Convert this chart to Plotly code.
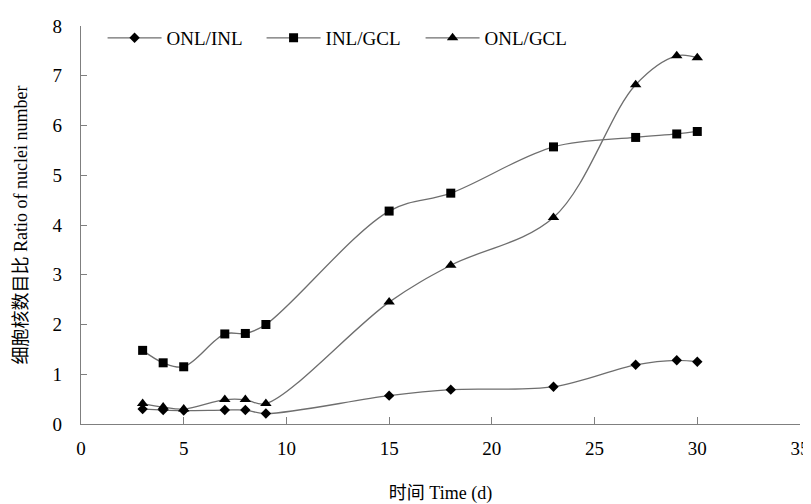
import plotly.graph_objects as go

days = [3, 4, 5, 7, 8, 9, 15, 18, 23, 27, 29, 30]
onl_inl = [0.30, 0.28, 0.27, 0.28, 0.28, 0.21, 0.57, 0.69, 0.75, 1.19, 1.28, 1.25]
inl_gcl = [1.48, 1.23, 1.15, 1.81, 1.82, 2.00, 4.28, 4.64, 5.57, 5.76, 5.83, 5.88]
onl_gcl = [0.41, 0.34, 0.30, 0.49, 0.49, 0.41, 2.45, 3.19, 4.15, 6.82, 7.40, 7.36]
series_names = ["ONL/INL", "INL/GCL", "ONL/GCL"]
x_ticks = [0, 5, 10, 15, 20, 25, 30, 35]
y_ticks = [0, 1, 2, 3, 4, 5, 6, 7, 8]

serif = "Liberation Serif, Times New Roman, serif"
mixed = "Liberation Serif, Noto Sans CJK SC, serif"
symbols = ["diamond", "square", "triangle-up"]
sizes = [8, 9, 10]

fig = go.Figure()
for name, ys, sym, sz in zip(series_names, [onl_inl, inl_gcl, onl_gcl], symbols, sizes):
    fig.add_trace(go.Scatter(
        x=days, y=ys, name=name, mode="lines+markers",
        line=dict(color="#6e6e6e", width=1.3, shape="spline", smoothing=1.0),
        marker=dict(symbol=sym, size=sz, color="black"),
    ))

fig.update_layout(
    width=803, height=496,
    margin=dict(l=73, r=11, t=11, b=80),
    paper_bgcolor="white", plot_bgcolor="white",
    font=dict(family=serif, size=19, color="black"),
    showlegend=True,
    legend=dict(orientation="h", x=0.030, y=0.97, xanchor="left", yanchor="middle",
                bgcolor="rgba(0,0,0,0)", font=dict(size=19, family=serif),
                entrywidth=90, entrywidthmode="pixels", itemwidth=54),
    xaxis=dict(range=[0, 35], tickvals=x_ticks, showgrid=False, zeroline=False,
               showline=True, linecolor="#7f7f7f", linewidth=1.2,
               ticks="inside", ticklen=7, tickcolor="#7f7f7f",
               tickfont=dict(size=19, family=serif), ticklabelstandoff=7,
               automargin=False,
               title=dict(text="时间 Time (d)", font=dict(size=18, family=mixed), standoff=29)),
    yaxis=dict(range=[0, 8], tickvals=y_ticks, showgrid=False, zeroline=False,
               showline=True, linecolor="#7f7f7f", linewidth=1.2,
               ticks="inside", ticklen=6, tickcolor="#7f7f7f",
               tickfont=dict(size=19, family=serif), ticklabelstandoff=14,
               automargin=False,
               title=dict(text="细胞核数目比 Ratio of nuclei number", font=dict(size=18, family=mixed), standoff=20)),
)

fig.write_html("out.html")
